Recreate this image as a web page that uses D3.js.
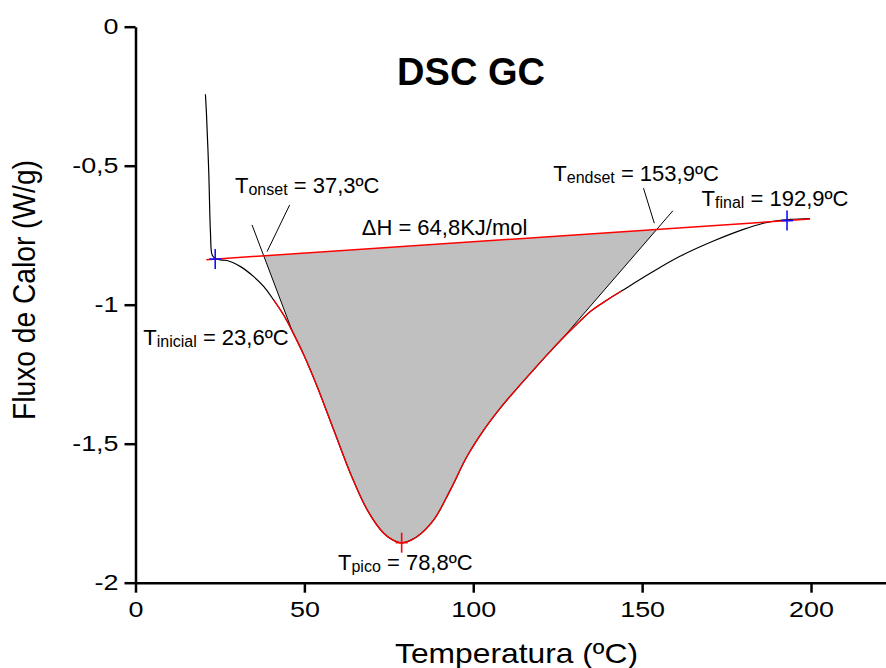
<!DOCTYPE html>
<html>
<head>
<meta charset="utf-8">
<script src="https://cdn.jsdelivr.net/npm/d3@7"></script>
<style>
  body { margin: 0; background: #fff; }
  svg { display: block; font-family: "Liberation Sans", Arial, sans-serif; }
</style>
</head>
<body>
<svg id="chart" width="886" height="668"></svg>
<script>
// DSC curve
var temp = [20.7, 21.0, 21.7, 22.2, 22.7, 23.6, 25.2, 27.1, 31.1, 35.0, 38.0, 40.9, 43.9, 46.4,
  49.8, 53.8, 58.7, 63.6, 68.6, 73.5, 77.4, 79.4, 83.3, 88.3, 93.2, 98.1, 103.1, 108.0,
  112.9, 117.8, 122.8, 126.2, 131.7, 134.6, 139.0, 144.0, 152.4, 161.2, 171.1, 180.0, 185.9,
  189.8, 194.0, 199.7];
var flux = [-0.243, -0.310, -0.527, -0.742, -0.821, -0.833, -0.839, -0.841, -0.863, -0.899,
  -0.935, -0.983, -1.038, -1.095, -1.180, -1.295, -1.451, -1.606, -1.738, -1.822, -1.853,
  -1.856, -1.835, -1.774, -1.667, -1.547, -1.451, -1.372, -1.302, -1.235, -1.168, -1.124,
  -1.058, -1.025, -0.988, -0.950, -0.887, -0.826, -0.771, -0.729, -0.707, -0.698, -0.693, -0.690];

// baseline and tangents (start / end)
var baseT = [21.0, 199.7], baseV = [-0.838, -0.692];
var onsetT = [34.5, 46.4], onsetV = [-0.713, -1.095];
var endsetT = [159.1, 126.2], endsetV = [-0.662, -1.124];
var redRange = [40.9, 144.0];

var xTicks = [0, 50, 100, 150, 200];
var xMinor = [25, 75, 125, 175];
var yTicks = [0, -0.5, -1, -1.5, -2];
var yMinor = [-0.25, -0.75, -1.25, -1.75];

// annotations
var labSub = ["inicial", "onset", "endset", "final", "pico"];
var labVal = ["23,6ºC", "37,3ºC", "153,9ºC", "192,9ºC", "78,8ºC"];
var labT = [2.31, 29.46, 123.7, 167.6, 59.96];
var labV = [-1.145, -0.598, -0.555, -0.645, -1.954];
var dhText = "ΔH = 64,8KJ/mol", dhT = 66.97, dhV = -0.749;
var leaders = [[[45.65, -0.641], [38.96, -0.809]], [[150.4, -0.581], [153.6, -0.707]]];
var markT = [23.6, 192.9, 78.8];
var markColor = ["#1010ff", "#1010ff", "#ff0000"];

(function() {
"use strict";

var svg = d3.select("#chart");
var x = d3.scaleLinear().domain([0, 222.2]).range([135.5, 886]);
var y = d3.scaleLinear().domain([-2, 0]).range([582.7, 26.7]);

var pts = temp.map(function(t, i) { return [t, flux[i]]; });
var baseAt = function(t) {
  return baseV[0] + (baseV[1] - baseV[0]) * (t - baseT[0]) / (baseT[1] - baseT[0]);
};
function crossBase(tt, vv) {
  // intersection of a line with the baseline
  var m = (vv[1] - vv[0]) / (tt[1] - tt[0]);
  var b = (baseV[1] - baseV[0]) / (baseT[1] - baseT[0]);
  var t = (baseAt(0) - (vv[0] - m * tt[0])) / (m - b);
  return [t, baseAt(t)];
}

var line = d3.line()
  .x(function(d) { return x(d[0]); })
  .y(function(d) { return y(d[1]); })
  .curve(d3.curveCatmullRom.alpha(0.5));
var straight = d3.line()
  .x(function(d) { return x(d[0]); })
  .y(function(d) { return y(d[1]); });

// gray area
var on = crossBase(onsetT, onsetV), off = crossBase(endsetT, endsetV);
var inside = pts.filter(function(d) { return d[0] >= onsetT[1] && d[0] <= endsetT[1]; }).reverse();
var fillPath = straight([on, off, [endsetT[1], endsetV[1]]]) +
  line(inside).replace(/^M/, "L") + "Z";
svg.append("path").attr("d", fillPath).attr("fill", "#c0c0c0").attr("stroke", "none");

// axes
var gx = svg.append("g").attr("transform", "translate(0," + y(-2) + ")");
gx.call(d3.axisBottom(x).tickValues(xMinor).tickSize(5).tickSizeOuter(0).tickFormat(""));
gx.call(d3.axisBottom(x).tickValues(xTicks).tickSize(10).tickSizeOuter(0).tickPadding(9));
var gy = svg.append("g").attr("transform", "translate(" + x(0) + ",0)");
gy.call(d3.axisLeft(y).tickValues(yMinor).tickSize(5).tickSizeOuter(0).tickFormat(""));
gy.call(d3.axisLeft(y).tickValues(yTicks).tickSize(11).tickSizeOuter(0).tickPadding(6)
  .tickFormat(function(d) { return String(d).replace(".", ","); }));
svg.selectAll(".domain, .tick line").attr("stroke", "#000").attr("stroke-width", 2.5);

// the reference tick labels are wider than plain Arial
var sx = 1.25;
svg.selectAll(".tick text")
  .style("font-size", "21.5px")
  .style("font-family", "'Liberation Sans', Arial, sans-serif")
  .attr("fill", "#000")
  .attr("x", function() { return (+d3.select(this).attr("x") || 0) / sx; })
  .attr("transform", "scale(" + sx + ",1)");

// tangents and leaders
[[onsetT, onsetV], [endsetT, endsetV]].forEach(function(tv) {
  svg.append("path").attr("d", straight([[tv[0][0], tv[1][0]], [tv[0][1], tv[1][1]]]))
    .attr("stroke", "#000").attr("stroke-width", 1).attr("fill", "none");
});
leaders.forEach(function(l) {
  svg.append("path").attr("d", straight(l))
    .attr("stroke", "#000").attr("stroke-width", 1).attr("fill", "none");
});

// DSC curve, its red part, baseline
svg.append("path").attr("d", line(pts))
  .attr("fill", "none").attr("stroke", "#000").attr("stroke-width", 1.2);
svg.append("path")
  .attr("d", line(pts.filter(function(d) { return d[0] >= redRange[0] && d[0] <= redRange[1]; })))
  .attr("fill", "none").attr("stroke", "#ff0000").attr("stroke-width", 1.3);
svg.append("path").attr("d", straight([[baseT[0], baseV[0]], [baseT[1], baseV[1]]]))
  .attr("fill", "none").attr("stroke", "#ff0000").attr("stroke-width", 1.5);

// markers
markT.forEach(function(t, i) {
  var v = i < 2 ? baseAt(t) : d3.min(flux);
  var cx = x(t), cy = y(v);
  var g = svg.append("g").attr("stroke", markColor[i]).attr("stroke-width", 1.6);
  g.append("line").attr("x1", cx).attr("x2", cx).attr("y1", cy - 10).attr("y2", cy + 10);
  g.append("line").attr("x1", cx - 6).attr("x2", cx + 6).attr("y1", cy).attr("y2", cy);
});

// labels
labSub.forEach(function(s, i) {
  var t = svg.append("text").attr("x", x(labT[i])).attr("y", y(labV[i]))
    .attr("font-size", 22).attr("fill", "#000");
  t.append("tspan").text("T");
  t.append("tspan").attr("font-size", 16).attr("dy", 2).text(s);
  t.append("tspan").attr("dy", -2).text(" = " + labVal[i]);
});
svg.append("text").attr("x", x(dhT)).attr("y", y(dhV))
  .attr("font-size", 22).attr("fill", "#000").text(dhText);

svg.append("text").attr("x", 471).attr("y", 85).attr("text-anchor", "middle")
  .attr("font-size", 38).attr("font-weight", "bold").text("DSC GC");

svg.append("text").attr("x", 516.5).attr("y", 663).attr("text-anchor", "middle")
  .attr("font-size", 28.5).attr("textLength", 243).attr("lengthAdjust", "spacingAndGlyphs")
  .text("Temperatura (ºC)");
svg.append("text").attr("transform", "translate(35,290) rotate(-90)").attr("text-anchor", "middle")
  .attr("font-size", 31).attr("textLength", 260).attr("lengthAdjust", "spacingAndGlyphs")
  .text("Fluxo de Calor (W/g)");

})();
</script>
</body>
</html>
